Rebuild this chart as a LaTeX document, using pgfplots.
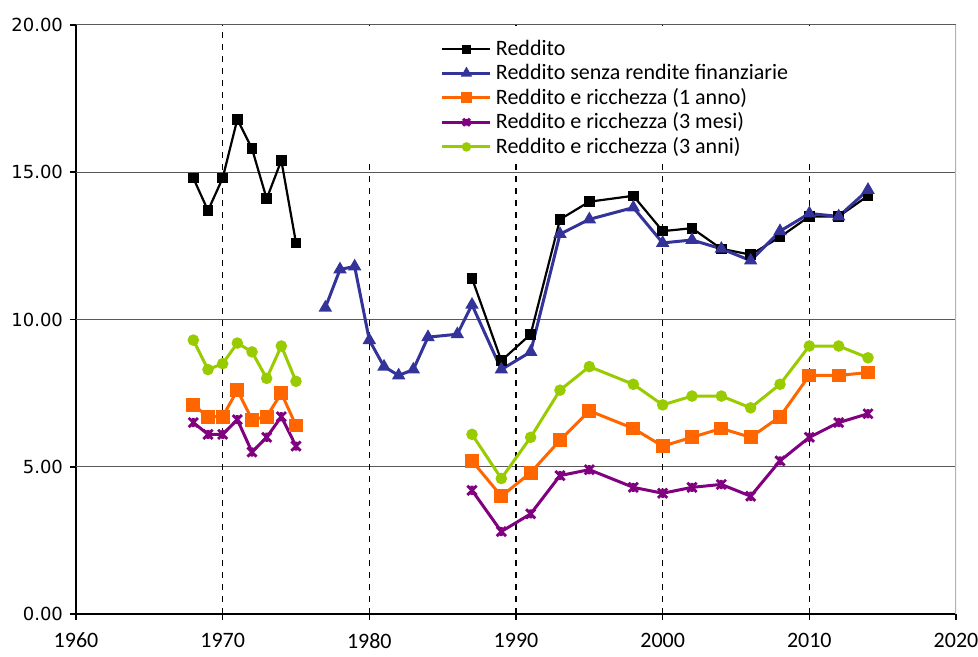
\documentclass[border=0pt]{standalone}
\usepackage{fontspec}
\setmainfont{Carlito}
\newfontfamily\dejavu{DejaVu Sans}
\usepackage{pgfplots}
\pgfplotsset{compat=1.18}
\definecolor{cblue}{RGB}{51,51,153}
\definecolor{corange}{RGB}{255,102,0}
\definecolor{cpurple}{RGB}{128,0,128}
\definecolor{cgreen}{RGB}{153,204,0}
\pgfdeclareplotmark{xstar}{%
  \pgfpathmoveto{\pgfqpoint{-\pgfplotmarksize}{-\pgfplotmarksize}}%
  \pgfpathlineto{\pgfqpoint{\pgfplotmarksize}{\pgfplotmarksize}}%
  \pgfpathmoveto{\pgfqpoint{-\pgfplotmarksize}{\pgfplotmarksize}}%
  \pgfpathlineto{\pgfqpoint{\pgfplotmarksize}{-\pgfplotmarksize}}%
  \pgfpathmoveto{\pgfqpoint{0pt}{-\pgfplotmarksize}}%
  \pgfpathlineto{\pgfqpoint{0pt}{\pgfplotmarksize}}%
  \pgfusepathqstroke}
\begin{document}
\begin{tikzpicture}
\begin{axis}[
  scale only axis,
  width=440pt, height=294.5pt,
  xmin=1960, xmax=2020, ymin=0, ymax=20,
  xtick={1960,1970,...,2020},
  ytick={0,5,10,15,20},
  axis x line*=bottom, axis y line*=left,
  axis line style={black, line width=1.3pt},
  tick align=outside,
  major tick length=3pt,
  tick style={black, line width=0.8pt},
  /pgf/number format/assume math mode=true,
  x tick label style={font=\fontsize{11}{12}\selectfont, /pgf/number format/1000 sep={}},
  y tick label style={font=\dejavu\fontsize{9}{11}\selectfont, /pgf/number format/fixed, /pgf/number format/precision=2, /pgf/number format/fixed zerofill},
  xticklabel style={yshift=-3pt},
  unbounded coords=jump,
  legend style={draw=none, fill=none, at={(0.412,0.985)}, anchor=north west, font=\fontsize{11}{12}\selectfont, row sep=-1.2pt, inner sep=1pt},
  legend cell align=left,
  legend image code/.code={\draw[#1] (0pt,0pt) -- (12pt,0pt) -- (24pt,0pt); \draw[#1, mark repeat=2, mark phase=2, mark options={scale=0.75}] plot coordinates {(0pt,0pt) (12pt,0pt) (24pt,0pt)};},
]
% grid
\pgfplotsinvokeforeach{5,10,15,20}{\draw[gray!70!black, line width=0.5pt] (axis cs:1960,#1) -- (axis cs:2020,#1);}
\pgfplotsinvokeforeach{1970,1980,1990,2000,2010}{\draw[black, line width=0.75pt, dash pattern=on 3.2pt off 2.8pt] (axis cs:#1,0) -- (axis cs:#1,20);}
\draw[gray!60, line width=0.6pt] (axis cs:2020,0) -- (axis cs:2020,20);
\fill[white] (axis cs:1979.3,15.5) rectangle (axis cs:2011.5,19.75);
\coordinate (bl) at (rel axis cs:0,0);
\coordinate (tr) at (rel axis cs:1,1);

\addplot[black, line width=1.1pt, mark=square*, mark size=2.1pt, mark options={solid}] coordinates {
(1968,14.8)(1969,13.7)(1970,14.8)(1971,16.8)(1972,15.8)(1973,14.1)(1974,15.4)(1975,12.6)
(1976,nan)
(1987,11.4)(1989,8.6)(1991,9.5)(1993,13.4)(1995,14.0)(1998,14.2)(2000,13.0)(2002,13.1)(2004,12.4)(2006,12.2)(2008,12.8)(2010,13.5)(2012,13.5)(2014,14.2)};
\addlegendentry{Reddito}

\addplot[cblue, line width=1.5pt, mark=triangle*, mark size=2.4pt] coordinates {
(1977,10.4)(1978,11.7)(1979,11.8)(1980,9.3)(1981,8.4)(1982,8.1)(1983,8.3)(1984,9.4)(1986,9.5)(1987,10.5)(1989,8.3)(1991,8.9)(1993,12.9)(1995,13.4)(1998,13.8)(2000,12.6)(2002,12.7)(2004,12.4)(2006,12.0)(2008,13.0)(2010,13.6)(2012,13.5)(2014,14.4)};
\addlegendentry{Reddito senza rendite finanziarie}

\addplot[corange, line width=1.5pt, mark=square*, mark size=2.7pt] coordinates {
(1968,7.1)(1969,6.7)(1970,6.7)(1971,7.6)(1972,6.6)(1973,6.7)(1974,7.5)(1975,6.4)
(1976,nan)
(1987,5.2)(1989,4.0)(1991,4.8)(1993,5.9)(1995,6.9)(1998,6.3)(2000,5.7)(2002,6.0)(2004,6.3)(2006,6.0)(2008,6.7)(2010,8.1)(2012,8.1)(2014,8.2)};
\addlegendentry{Reddito e ricchezza (1 anno)}

\addplot[cpurple, line width=1.5pt, mark=xstar, mark size=2.3pt, mark options={line width=1.4pt}] coordinates {
(1968,6.5)(1969,6.1)(1970,6.1)(1971,6.6)(1972,5.5)(1973,6.0)(1974,6.7)(1975,5.7)
(1976,nan)
(1987,4.2)(1989,2.8)(1991,3.4)(1993,4.7)(1995,4.9)(1998,4.3)(2000,4.1)(2002,4.3)(2004,4.4)(2006,4.0)(2008,5.2)(2010,6.0)(2012,6.5)(2014,6.8)};
\addlegendentry{Reddito e ricchezza (3 mesi)}

\addplot[cgreen, line width=1.5pt, mark=*, mark size=2.1pt] coordinates {
(1968,9.3)(1969,8.3)(1970,8.5)(1971,9.2)(1972,8.9)(1973,8.0)(1974,9.1)(1975,7.9)
(1976,nan)
(1987,6.1)(1989,4.6)(1991,6.0)(1993,7.6)(1995,8.4)(1998,7.8)(2000,7.1)(2002,7.4)(2004,7.4)(2006,7.0)(2008,7.8)(2010,9.1)(2012,9.1)(2014,8.7)};
\addlegendentry{Reddito e ricchezza (3 anni)}
\end{axis}
\pgfresetboundingbox
\path[use as bounding box] ([shift={(-38pt,-21.5pt)}]bl) rectangle ([shift={(11pt,12.5pt)}]tr);
\end{tikzpicture}
\end{document}
